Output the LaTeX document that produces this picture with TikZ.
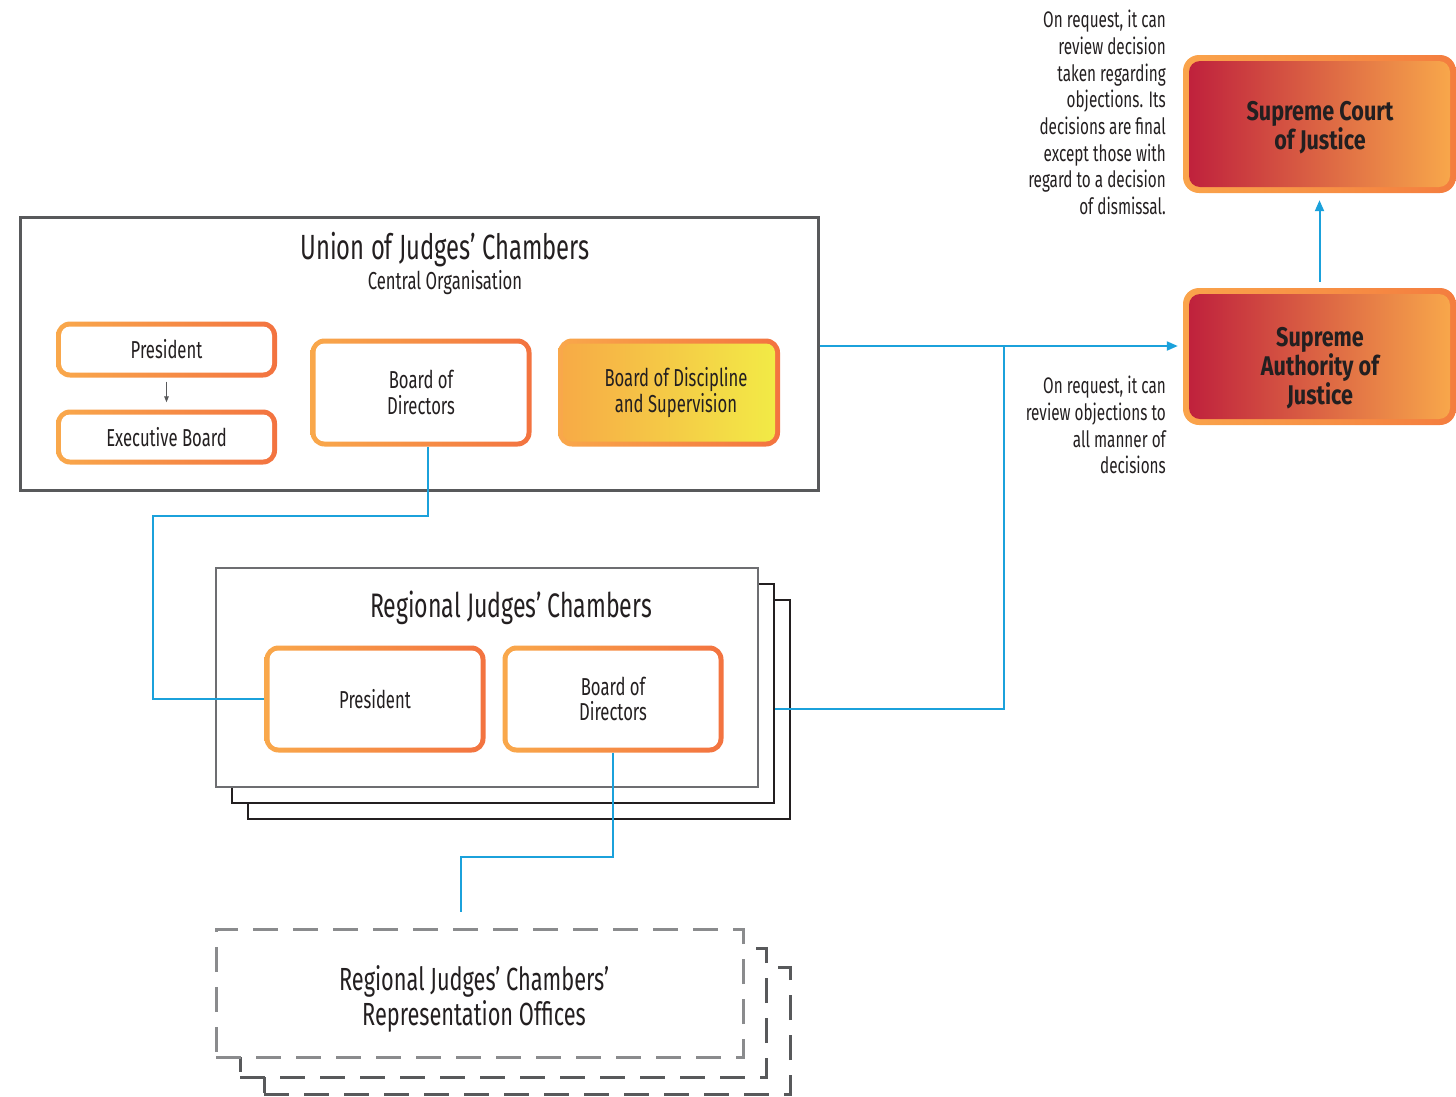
\documentclass[tikz,border=0pt]{standalone}
\usepackage{fontspec}
\setmainfont{Fira Sans}[FakeStretch=0.68, BoldFeatures={FakeStretch=0.8}]
\usetikzlibrary{arrows.meta,calc}

\definecolor{ink}{HTML}{231F20}
\definecolor{frame}{HTML}{58595B}
\definecolor{framelight}{HTML}{6D6E71}
\definecolor{dashgray}{HTML}{8A8B8D}
\definecolor{link}{HTML}{1BA1DB}
\definecolor{orA}{HTML}{F9A84B}
\definecolor{orB}{HTML}{F37340}
\definecolor{yeA}{HTML}{F7A946}
\definecolor{yeB}{HTML}{F2EC46}
\definecolor{rdA}{HTML}{BE1E3C}
\definecolor{rdB}{HTML}{F9AA4B}
\definecolor{bdA}{HTML}{FAA44B}
\definecolor{bdB}{HTML}{F47D3F}

\newcommand\setfs[2]{\fontsize{#1}{#2}\selectfont}

\tikzset{
  % white box with an orange gradient outline
  obox/.style={rounded corners=14pt, inner sep=0pt, left color=orA, right color=orB,
    text=ink, align=center, font=\setfs{24.5}{25.5},
    path picture={\fill[white, rounded corners=9pt]
      ($(path picture bounding box.south west)+(5pt,5pt)$) rectangle
      ($(path picture bounding box.north east)+(-5pt,-5pt)$);}},
  % yellow gradient box with an orange outline
  ybox/.style={rounded corners=14pt, inner sep=0pt, left color=orA, right color=orB,
    text=ink, align=center, font=\setfs{24.5}{25.5},
    path picture={\shade[left color=yeA, right color=yeB, rounded corners=9pt]
      ($(path picture bounding box.south west)+(5pt,5pt)$) rectangle
      ($(path picture bounding box.north east)+(-5pt,-5pt)$);}},
  % red-to-orange court box
  cbox/.style={rounded corners=16pt, inner sep=0pt, left color=bdA, right color=bdB,
    path picture={\shade[left color=rdA, right color=rdB, rounded corners=11pt]
      ($(path picture bounding box.south west)+(6pt,6pt)$) rectangle
      ($(path picture bounding box.north east)+(-6pt,-6pt)$);}},
  ctext/.style={text=ink, align=center, font=\setfs{27}{24.5}\bfseries, inner sep=0pt},
  panel/.style={draw=frame, line width=3pt, fill=white, inner sep=0pt},
  stackbox/.style={draw=ink, line width=2.5pt, fill=white, inner sep=0pt},
  dashbox/.style={draw=frame, line width=3pt, fill=white, dash pattern=on 25pt off 15pt, inner sep=0pt},
  conn/.style={draw=link, line width=2pt},
  tip/.style={-{Triangle[length=11pt,width=9pt]}},
  note/.style={text=ink, align=right, font=\setfs{22.5}{26.7}, inner sep=0pt, anchor=east},
}

\begin{document}
\begin{tikzpicture}[x=1pt,y=-1pt]
\useasboundingbox (0,0) rectangle (1456,1096);

% ---------- central organisation ----------
\node[panel, minimum width=798pt, minimum height=273pt] (union) at (419,353.5) {};
\node[text=ink, font=\setfs{35}{38}, inner sep=0pt] (uniontitle) at (445,249.5) {Union of Judges' Chambers};
\node[text=ink, font=\setfs{24.5}{26}, inner sep=0pt] (unionsub) at (445,283) {Central Organisation};

\node[obox, minimum width=221pt, minimum height=56pt] (cpres) at (166.5,349.5) {President};
\node[obox, minimum width=221pt, minimum height=55pt] (cexec) at (166.5,437) {Executive Board};
\node[obox, minimum width=221pt, minimum height=108pt] (cbod) at (421,392.5) {Board of\\Directors};
\node[ybox, minimum width=222pt, minimum height=108pt] (cbds) at (669,392.5) {\hspace*{14pt}Board of Discipline\\\hspace*{14pt}and Supervision};

\draw[draw=frame, line width=1.3pt, -{Triangle[length=6pt,width=4.5pt]}, shorten <=4pt, shorten >=7pt]
  (cpres.south) -- (cexec.north);

% ---------- regional chambers (stacked) ----------
\node[stackbox, minimum width=542pt, minimum height=219pt] (r3) at (519,709.5) {};
\node[stackbox, minimum width=542pt, minimum height=219pt] (r2) at (503,693.5) {};
\node[stackbox, draw=framelight, minimum width=542pt, minimum height=219pt] (r1) at (487,677.5) {};
\node[text=ink, font=\setfs{34}{35}, inner sep=0pt] (regtitle) at (511,608) {Regional Judges' Chambers};

\node[obox, minimum width=221pt, minimum height=107pt] (rpres) at (375,699) {President};
\node[obox, minimum width=221pt, minimum height=107pt] (rbod) at (613,699) {Board of\\Directors};

% ---------- representation offices (stacked, dashed) ----------
\node[dashbox, minimum width=526pt, minimum height=127pt] (d3) at (527,1030.5) {};
\node[dashbox, minimum width=526pt, minimum height=129pt] (d2) at (503,1012.5) {};
\node[dashbox, draw=dashgray, minimum width=527pt, minimum height=128pt] (d1) at (479.5,993) {};
\node[text=ink, font=\setfs{32}{35}, align=center, inner sep=0pt] (reptitle) at (474,998.5)
  {Regional Judges' Chambers'\\Representation Offices};

% ---------- supreme courts ----------
\node[cbox, minimum width=273pt, minimum height=138pt] (scj) at (1319.5,124) {};
\node[ctext] (scjtext) at (1320,127.5) {Supreme Court\\of Justice};
\node[cbox, minimum width=273pt, minimum height=137pt] (saj) at (1319.5,356.5) {};
\node[ctext] (sajtext) at (1320,368) {Supreme\\Authority of\\Justice};

\node[note] (note1) at (1166,112.5) {On request, it can\\review decision\\taken regarding\\objections. Its\\decisions are final\\except those with\\regard to a decision\\of dismissal.};
\node[note] (note2) at (1166,425) {On request, it can\\review objections to\\all manner of\\decisions};

% ---------- connectors ----------
\coordinate (jn) at (1004,346);
\draw[conn, tip, shorten >=5pt] ([yshift=7.5pt]union.east) -- ([yshift=7.5pt]union.east -| saj.west);
\draw[conn] ([yshift=-15.5pt]r2.east) -| (jn);
\draw[conn, tip, shorten <=6pt, shorten >=7pt] (saj.north) -- (scj.south);
\draw[conn] ([xshift=7pt]cbod.south) -- ++(0,69) -- ++(-275,0) |- (rpres.west);
\draw[conn] (rbod.south) -- ++(0,104) -| ([xshift=-18.5pt,yshift=16pt]d1.north);
\end{tikzpicture}
\end{document}
